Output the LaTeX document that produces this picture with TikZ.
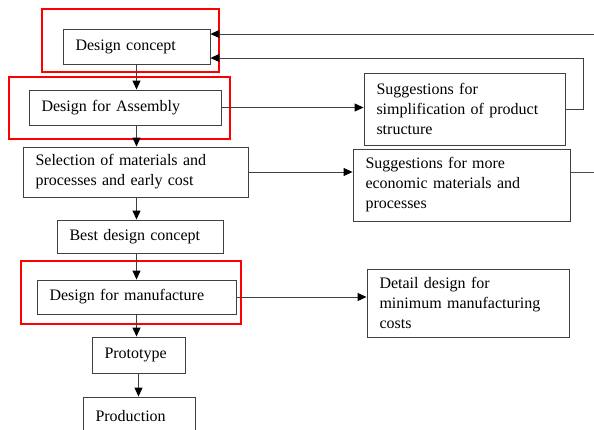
\documentclass[tikz,border=0pt]{standalone}
\usepackage{fontspec}
\setmainfont{Liberation Serif}
\usetikzlibrary{arrows.meta}
\begin{document}
\begin{tikzpicture}[x=1pt,y=-1pt,
  box/.style={draw=black!75, line width=0.9pt, fill=white, inner xsep=12pt, inner ysep=0pt,
    align=left, font=\fontsize{16}{20}\selectfont, anchor=center},
  arr/.style={draw=black!75, line width=1pt, -{Triangle[length=9pt,width=8pt,color=black]}},
  ln/.style={draw=black!70, line width=1pt},
  redframe/.style={draw=red, line width=1.6pt}]
\clip (0,0) rectangle (594,429);
\fill[white] (0,0) rectangle (594,429);
% red frames
\draw[redframe] (42,9) rectangle (219,72);
\draw[redframe] (9,77) rectangle (230,139);
\draw[redframe] (21,261) rectangle (241,324);
% boxes
\node[box, minimum width=147pt, minimum height=35pt, text width=122pt] (dc) at (136.5,46.5) {Design concept};
\node[box, minimum width=192pt, minimum height=35pt, text width=167pt] (da) at (125,107.5) {Design for Assembly};
\node[box, minimum width=225pt, minimum height=50pt, text width=200pt] (sel) at (135.5,172) {Selection of materials and\\processes and early cost};
\node[box, minimum width=166pt, minimum height=33pt, text width=141pt] (best) at (140,236.5) {Best design concept};
\node[box, minimum width=199pt, minimum height=34pt, text width=174pt] (dfm) at (136.5,297) {Design for manufacture};
\node[box, minimum width=93pt, minimum height=36pt, text width=68pt] (proto) at (138.5,355) {Prototype};
\node[box, minimum width=112pt, minimum height=38pt, text width=87pt] (prod) at (139,416) {Production};
\node[box, minimum width=201pt, minimum height=72pt, text width=176pt] (sug1) at (464.5,109) {Suggestions for\\simplification of product\\structure};
\node[box, minimum width=217pt, minimum height=72pt, text width=192pt] (sug2) at (461.5,185) {Suggestions for more\\economic materials and\\processes};
\node[box, minimum width=202pt, minimum height=68pt, text width=177pt] (det) at (468,303) {Detail design for\\minimum manufacturing\\costs};
% coordinates for free ends
\coordinate (topend) at (594,34);
\coordinate (loopx) at (583,58);
\coordinate (s2end) at (594,172);
% vertical chain
\draw[arr] (dc.south) -- (dc.south |- da.north);
\draw[arr] (dc.south |- da.south) -- (dc.south |- sel.north);
\draw[arr] (dc.south |- sel.south) -- (dc.south |- best.north);
\draw[arr] (dc.south |- best.south) -- (dc.south |- dfm.north);
\draw[arr] (dfm.south) -- (dfm.south |- proto.north);
\draw[arr] (proto.south) -- (proto.south |- prod.north);
% horizontal
\draw[arr] (da.east) -- (da.east -| sug1.west);
\draw[arr] (sel.east) -- (sel.east -| sug2.west);
\draw[arr] (dfm.east) -- (dfm.east -| det.west);
% feedback
\draw[arr] (sug1.east) -| (loopx) -- (loopx -| dc.east);
\draw[arr] (topend) -- (topend -| dc.east);
\draw[ln] (sug2.east |- s2end) -- (s2end);
\end{tikzpicture}
\end{document}
